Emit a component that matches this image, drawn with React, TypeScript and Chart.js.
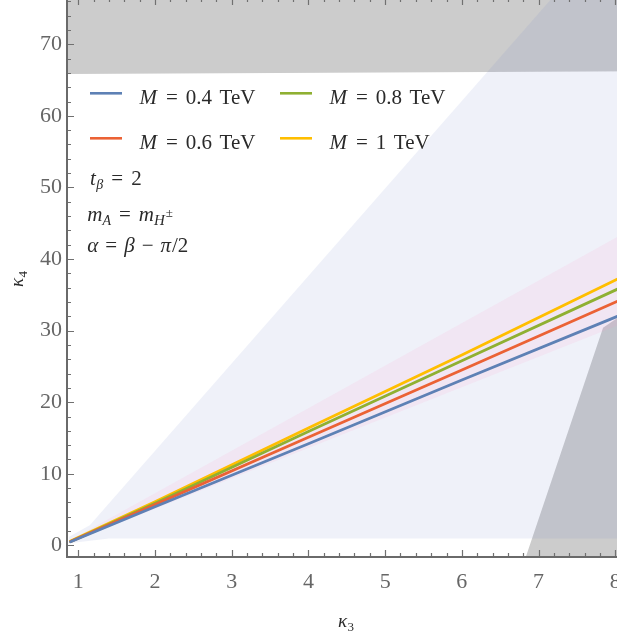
import React, { useEffect, useRef } from "react";
import { Chart, registerables } from "chart.js";
Chart.register(...registerables);

// ---- data ----
const kappa3 = [0.9, 2, 4, 6, 8.05];
const kappa4M04 = [0.5, 5.4, 14.2, 23.1, 32.1];
const kappa4M06 = [0.55, 5.7, 15.1, 24.5, 34.2];
const kappa4M08 = [0.55, 5.9, 15.9, 25.8, 35.9];
const kappa4M10 = [0.6, 6.1, 16.4, 26.6, 37.3];
const massLabels = ["0.4", "0.6", "0.8", "1"];
const lineColors = ["#5E81B5", "#EB6235", "#8FB032", "#FFBE00"];

// excluded region (top band)
const topBandX = [0.8, 8.5, 8.5, 0.8];
const topBandY = [65.85, 66.25, 78, 78];
// excluded region (lower right wedge)
const rightWedgeX = [6.79, 7.84, 8.5, 8.5];
const rightWedgeY = [-3, 30.4, 35.2, -3];
// allowed region (lavender)
const allowedX = [0.88, 0.88, 1.15, 7.22, 8.5, 8.5, 1.4];
const allowedY = [0.3, 1.2, 2.8, 77, 77, 0.95, 0.95];
// band around the curves (pink)
const bandX = [0.9, 8.5, 8.5, 0.9];
const bandY = [0.75, 45.9, 32.7, 0.45];

const xTicks = [1, 2, 3, 4, 5, 6, 7, 8];
const yTicks = [0, 10, 20, 30, 40, 50, 60, 70];

const SERIF = '"Liberation Serif", "Times New Roman", serif';

type Run = { t: string; it?: boolean; sz?: number; dy?: number; gap?: number };
function drawRuns(ctx: CanvasRenderingContext2D, x: number, y: number, runs: Run[], base: number) {
  let cx = x;
  for (const r of runs) {
    cx += r.gap ?? 0;
    ctx.font = `${r.it ? "italic " : ""}${r.sz ?? base}px ${SERIF}`;
    ctx.fillText(r.t, cx, y + (r.dy ?? 0));
    cx += ctx.measureText(r.t).width;
  }
}

const pts = (xs: number[], ys: number[]) => xs.map((x, i) => ({ x, y: ys[i] }));

const framePlugin = {
  id: "frame",
  afterDraw(chart: any) {
    const { ctx, chartArea: a, scales } = chart;
    const xs = scales.x;
    const ys = scales.y;
    ctx.save();
    ctx.strokeStyle = "#707070";
    ctx.lineWidth = 1.2;
    const kx0 = Math.ceil(xs.min / 0.2 - 1e-6);
    const kx1 = Math.floor(xs.max / 0.2 + 1e-6);
    for (let k = kx0; k <= kx1; k++) {
      const px = Math.round(xs.getPixelForValue(k / 5)) + 0.5;
      const len = k % 5 === 0 ? 7 : 4;
      ctx.beginPath();
      ctx.moveTo(px, a.bottom);
      ctx.lineTo(px, a.bottom - len);
      ctx.moveTo(px, a.top);
      ctx.lineTo(px, a.top + len);
      ctx.stroke();
    }
    const ky0 = Math.ceil(ys.min / 2 - 1e-6);
    const ky1 = Math.floor(ys.max / 2 + 1e-6);
    for (let k = ky0; k <= ky1; k++) {
      const py = Math.round(ys.getPixelForValue(k * 2)) + 0.5;
      const len = k % 5 === 0 ? 7 : 4;
      ctx.beginPath();
      ctx.moveTo(a.left, py);
      ctx.lineTo(a.left + len, py);
      ctx.moveTo(a.right, py);
      ctx.lineTo(a.right - len, py);
      ctx.stroke();
    }
    ctx.lineWidth = 2;
    ctx.strokeStyle = "#6a6a6a";
    ctx.strokeRect(a.left, a.top, a.right - a.left, a.bottom - a.top);

    // legend
    const colX = [90, 280];
    const rowY = [95.3, 140.3];
    [0, 1, 2, 3].forEach((si) => {
      const c = si < 2 ? 0 : 1;
      const r = si % 2;
      const lx = colX[c];
      const ly = rowY[r];
      ctx.strokeStyle = lineColors[si];
      ctx.lineWidth = 2.6;
      ctx.beginPath();
      ctx.moveTo(lx, ly);
      ctx.lineTo(lx + 32, ly);
      ctx.stroke();
      ctx.fillStyle = "#2a2a2a";
      ctx.textBaseline = "alphabetic";
      drawRuns(
        ctx,
        lx + 49.5,
        ly + 10.8,
        [
          { t: "M", it: true },
          { t: "=", gap: 9 },
          { t: massLabels[si], gap: 8 },
          { t: "TeV", gap: 7.5 },
        ],
        21
      );
    });

    // annotations
    ctx.fillStyle = "#2a2a2a";
    drawRuns(ctx, 90, 187, [
      { t: "t", it: true },
      { t: "β", it: true, sz: 14, dy: 4, gap: 0.5 },
      { t: "=", gap: 8 },
      { t: "2", gap: 8 },
    ], 21);
    drawRuns(ctx, 87.3, 223, [
      { t: "m", it: true },
      { t: "A", it: true, sz: 14, dy: 4 },
      { t: "=", gap: 8 },
      { t: "m", it: true, gap: 8 },
      { t: "H", it: true, sz: 15, dy: 4 },
      { t: "±", sz: 13, dy: -4, gap: 1 },
    ], 21);
    drawRuns(ctx, 87.3, 253.5, [
      { t: "α", it: true },
      { t: "=", gap: 7 },
      { t: "β", it: true, gap: 7 },
      { t: "−", gap: 7 },
      { t: "π", it: true, gap: 7 },
      { t: "/2", gap: 1 },
    ], 21);

    // axis titles
    ctx.fillStyle = "#2a2a2a";
    drawRuns(ctx, 338, 629, [
      { t: "κ", it: true },
      { t: "3", sz: 13, dy: 4, gap: 0.5 },
    ], 19);
    ctx.translate(23, 289);
    ctx.rotate(-Math.PI / 2);
    drawRuns(ctx, 0, 0, [
      { t: "κ", it: true },
      { t: "4", sz: 13, dy: 4, gap: 0.5 },
    ], 19);
    ctx.restore();
  },
};

export default function App() {
  const ref = useRef<HTMLCanvasElement | null>(null);
  useEffect(() => {
    if (!ref.current) return;
    const region = (xs: number[], ys: number[], color: string, order: number) => ({
      data: pts(xs, ys),
      showLine: true,
      fill: "shape",
      backgroundColor: color,
      borderColor: "transparent",
      borderWidth: 0,
      pointRadius: 0,
      tension: 0,
      order,
    });
    const curve = (ys: number[], i: number) => ({
      data: pts(kappa3, ys),
      showLine: true,
      fill: false,
      borderColor: lineColors[i],
      borderWidth: 2.8,
      borderCapStyle: "round",
      borderJoinStyle: "round",
      pointRadius: 0,
      tension: 0,
      order: 0,
    });
    const chart = new Chart(ref.current, {
      type: "scatter",
      data: {
        datasets: [
          region(topBandX, topBandY, "#cccccc", 4),
          region(rightWedgeX, rightWedgeY, "#cccccc", 3),
          region(allowedX, allowedY, "rgba(110,130,200,0.115)", 2),
          region(bandX, bandY, "rgba(255,150,200,0.12)", 1),
          curve(kappa4M04, 0),
          curve(kappa4M06, 1),
          curve(kappa4M08, 2),
          curve(kappa4M10, 3),
        ] as any,
      },
      options: {
        animation: false,
        responsive: false,
        events: [],
        layout: { padding: 0 },
        plugins: {
          legend: { display: false },
          tooltip: { enabled: false },
          title: { display: false },
        },
        scales: {
          x: {
            type: "linear",
            min: 0.853,
            max: 8.4,
            grid: { display: false, drawTicks: false },
            border: { display: false },
            afterBuildTicks: (s: any) => {
              s.ticks = xTicks.map((v) => ({ value: v }));
            },
            afterFit: (s: any) => {
              s.height = 84;
              s.paddingLeft = 0;
              s.paddingRight = 0;
              s.paddingTop = 0;
              s.paddingBottom = 0;
            },
            ticks: {
              color: "#666666",
              font: { family: SERIF, size: 22 },
              padding: 12,
              maxRotation: 0,
              autoSkip: false,
              callback: (v: any) => String(v),
            },
          },
          y: {
            type: "linear",
            min: -1.62,
            max: 76.46,
            grid: { display: false, drawTicks: false },
            border: { display: false },
            afterBuildTicks: (s: any) => {
              s.ticks = yTicks.map((v) => ({ value: v }));
            },
            afterFit: (s: any) => {
              s.width = 67;
              s.paddingLeft = 0;
              s.paddingRight = 0;
              s.paddingTop = 0;
              s.paddingBottom = 0;
            },
            ticks: {
              color: "#666666",
              font: { family: SERIF, size: 22 },
              padding: 5,
              autoSkip: false,
              callback: (v: any) => String(v),
            },
          },
        },
      } as any,
      plugins: [framePlugin as any],
    });
    return () => chart.destroy();
  }, []);
  return (
    <div style={{ position: "fixed", left: 0, top: -2, width: 646, height: 643, background: "#fff" }}>
      <canvas ref={ref} width={646} height={643} style={{ width: 646, height: 643, display: "block" }} />
    </div>
  );
}
